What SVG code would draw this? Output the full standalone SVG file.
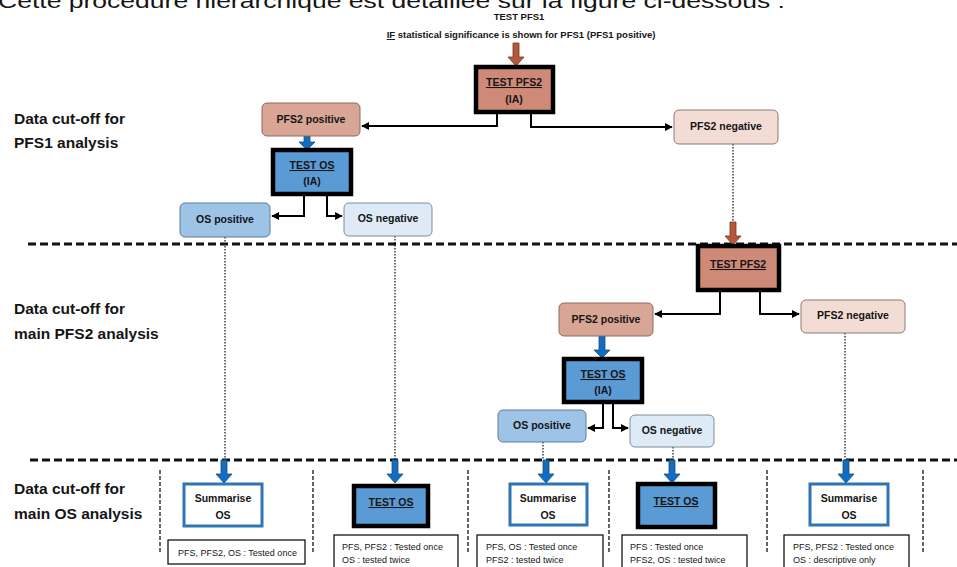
<svg xmlns="http://www.w3.org/2000/svg" width="957" height="567" viewBox="0 0 957 567">
<style>
text{font-family:"Liberation Sans",Arial,sans-serif;fill:#151515}
.lbl{font-size:15.5px;font-weight:bold}
.n{font-size:10.5px;font-weight:bold;text-anchor:middle}
.u{text-decoration:underline}
.note{font-size:9px}
.thick{stroke:#000;stroke-width:4.5}
.dk{fill:#cf8a77}.md{fill:#d9a595;stroke:#8c6a60;stroke-width:1}.lt{fill:#f2dcd4;stroke:#8c7a74;stroke-width:1}
.bt{fill:#5b9bd5}.bm{fill:#9dc3e6;stroke:#5f7d99;stroke-width:1}.bl{fill:#deebf7;stroke:#7f8d99;stroke-width:1}
.sum{fill:#fff;stroke:#2e75b6;stroke-width:3}
.nb{fill:#fff;stroke:#000;stroke-width:1.2}
.con{fill:none;stroke:#000;stroke-width:2;marker-end:url(#ah)}
.dot{fill:none;stroke:#222;stroke-width:1.3;stroke-dasharray:1.5 1.5}
.dash{stroke:#111;stroke-width:3;stroke-dasharray:8 4}
.sep{stroke:#333;stroke-width:1.5;stroke-dasharray:4 2}
.ba{fill:#0f6dc2;stroke:#1f4e79;stroke-width:0.8}
.ra{fill:#b4573a;stroke:#7a3520;stroke-width:0.8}
</style>
<defs>
<marker id="ah" viewBox="0 0 10 10" refX="9" refY="5" markerWidth="4" markerHeight="4" orient="auto" markerUnits="strokeWidth"><path d="M0,0L10,5L0,10z" fill="#000"/></marker>
</defs>

<text x="-2" y="8" style="font-size:21px;font-weight:normal" textLength="787" lengthAdjust="spacingAndGlyphs">Cette procédure hiérarchique est détaillée sur la figure ci-dessous :</text>

<text class="n" x="519" y="20" style="font-size:9.5px">TEST PFS1</text>
<text class="n" x="521" y="38" style="font-size:9.5px"><tspan class="u">IF</tspan> statistical significance is shown for PFS1 (PFS1 positive)</text>

<g id="labels">
<text class="lbl" x="14" y="124">Data cut-off for</text>
<text class="lbl" x="14" y="148">PFS1 analysis</text>
<text class="lbl" x="14" y="314">Data cut-off for</text>
<text class="lbl" x="14" y="339">main PFS2 analysis</text>
<text class="lbl" x="14" y="494">Data cut-off for</text>
<text class="lbl" x="14" y="519">main OS analysis</text>
</g>

<g id="dividers">
<line class="dash" x1="28" y1="244" x2="957" y2="244"/>
<line class="dash" x1="30" y1="460" x2="957" y2="460"/>
<line class="sep" x1="160" y1="470" x2="160" y2="552"/>
<line class="sep" x1="313" y1="470" x2="313" y2="552"/>
<line class="sep" x1="468" y1="470" x2="468" y2="552"/>
<line class="sep" x1="609" y1="470" x2="609" y2="552"/>
<line class="sep" x1="767" y1="470" x2="767" y2="552"/>
<line class="sep" x1="923" y1="470" x2="923" y2="552"/>
</g>

<g id="connectors">
<path class="ra" d="M513,43h6v14h5l-8,9l-8,-9h5z"/>
<path class="con" d="M497,112V126H362"/>
<path class="con" d="M531,112V127H672"/>
<path class="ba" d="M304,136h6v6h5l-8,8l-8,-8h5z"/>
<path class="con" d="M304,194V216H272"/>
<path class="con" d="M327,194V216H342"/>
<path class="dot" d="M733,144V222"/>
<path class="ra" d="M730,222h6v14h5l-8,9l-8,-9h5z"/>
<path class="con" d="M720,290V314H655"/>
<path class="con" d="M760,290V314H799"/>
<path class="ba" d="M599,336h6v14h5l-8,8l-8,-8h5z"/>
<path class="con" d="M603,403V428H588"/>
<path class="con" d="M613,403V428H628"/>
<path class="dot" d="M225,237V460"/>
<path class="dot" d="M395,236V460"/>
<path class="dot" d="M543,442V460"/>
<path class="dot" d="M673,447V460"/>
<path class="dot" d="M845,333V460"/>
<path class="ba" d="M221,460h6v14h5l-8,9l-8,-9h5z"/>
<path class="ba" d="M392,460h6v14h5l-8,9l-8,-9h5z"/>
<path class="ba" d="M543,460h6v14h5l-8,9l-8,-9h5z"/>
<path class="ba" d="M669,460h6v14h5l-8,9l-8,-9h5z"/>
<path class="ba" d="M843,460h6v14h5l-8,9l-8,-9h5z"/>
</g>

<g id="test-pfs2-ia">
<rect class="dk thick" x="476" y="67" width="77" height="45"/>
<text class="n u" x="514" y="86">TEST PFS2</text>
<text class="n" x="514" y="103">(IA)</text>
</g>
<g id="pfs2-pos-1">
<rect class="md" x="262" y="103" width="98" height="33" rx="5"/>
<text class="n" x="311" y="123">PFS2 positive</text>
</g>
<g id="pfs2-neg-1">
<rect class="lt" x="674" y="110" width="104" height="34" rx="5"/>
<text class="n" x="726" y="130">PFS2 negative</text>
</g>
<g id="test-os-ia-1">
<rect class="bt thick" x="273" y="150" width="78" height="44"/>
<text class="n u" x="312" y="169">TEST OS</text>
<text class="n" x="312" y="185">(IA)</text>
</g>
<g id="os-pos-1">
<rect class="bm" x="180" y="203" width="90" height="34" rx="5"/>
<text class="n" x="225" y="223">OS positive</text>
</g>
<g id="os-neg-1">
<rect class="bl" x="344" y="203" width="88" height="33" rx="5"/>
<text class="n" x="388" y="222">OS negative</text>
</g>

<g id="test-pfs2">
<rect class="dk thick" x="698" y="246" width="81" height="44"/>
<text class="n u" x="738" y="268">TEST PFS2</text>
</g>
<g id="pfs2-pos-2">
<rect class="md" x="559" y="303" width="94" height="33" rx="5"/>
<text class="n" x="606" y="323">PFS2 positive</text>
</g>
<g id="pfs2-neg-2">
<rect class="lt" x="801" y="300" width="104" height="33" rx="5"/>
<text class="n" x="853" y="319">PFS2 negative</text>
</g>
<g id="test-os-ia-2">
<rect class="bt thick" x="564" y="359" width="78" height="43"/>
<text class="n u" x="603" y="378">TEST OS</text>
<text class="n" x="603" y="394">(IA)</text>
</g>
<g id="os-pos-2">
<rect class="bm" x="498" y="410" width="88" height="32" rx="5"/>
<text class="n" x="542" y="429">OS positive</text>
</g>
<g id="os-neg-2">
<rect class="bl" x="630" y="415" width="84" height="32" rx="5"/>
<text class="n" x="672" y="434">OS negative</text>
</g>

<g id="summ-1">
<rect class="sum" x="184" y="484" width="78" height="42"/>
<text class="n" x="223" y="502">Summarise</text>
<text class="n" x="223" y="519">OS</text>
</g>
<g id="test-os-b1">
<rect class="bt thick" x="354" y="486" width="74" height="40"/>
<text class="n u" x="391" y="506">TEST OS</text>
</g>
<g id="summ-2">
<rect class="sum" x="510" y="484" width="77" height="41"/>
<text class="n" x="548" y="502">Summarise</text>
<text class="n" x="548" y="519">OS</text>
</g>
<g id="test-os-b2">
<rect class="bt thick" x="638" y="484" width="77" height="43"/>
<text class="n u" x="676" y="505">TEST OS</text>
</g>
<g id="summ-3">
<rect class="sum" x="810" y="484" width="78" height="41"/>
<text class="n" x="849" y="502">Summarise</text>
<text class="n" x="849" y="519">OS</text>
</g>

<g id="note-1">
<rect class="nb" x="168" y="540" width="137" height="24"/>
<text class="note" x="178" y="556">PFS, PFS2, OS : Tested once</text>
</g>
<g id="note-2">
<rect class="nb" x="334" y="535" width="124" height="40"/>
<text class="note" x="342" y="550">PFS, PFS2 : Tested once</text>
<text class="note" x="342" y="563">OS : tested twice</text>
</g>
<g id="note-3">
<rect class="nb" x="477" y="535" width="126" height="40"/>
<text class="note" x="486" y="550">PFS, OS : Tested once</text>
<text class="note" x="486" y="563">PFS2 : tested twice</text>
</g>
<g id="note-4">
<rect class="nb" x="622" y="535" width="125" height="40"/>
<text class="note" x="630" y="550">PFS : Tested once</text>
<text class="note" x="630" y="563">PFS2, OS : tested twice</text>
</g>
<g id="note-5">
<rect class="nb" x="784" y="535" width="125" height="40"/>
<text class="note" x="793" y="550">PFS, PFS2 : Tested once</text>
<text class="note" x="793" y="563">OS : descriptive only</text>
</g>
</svg>
